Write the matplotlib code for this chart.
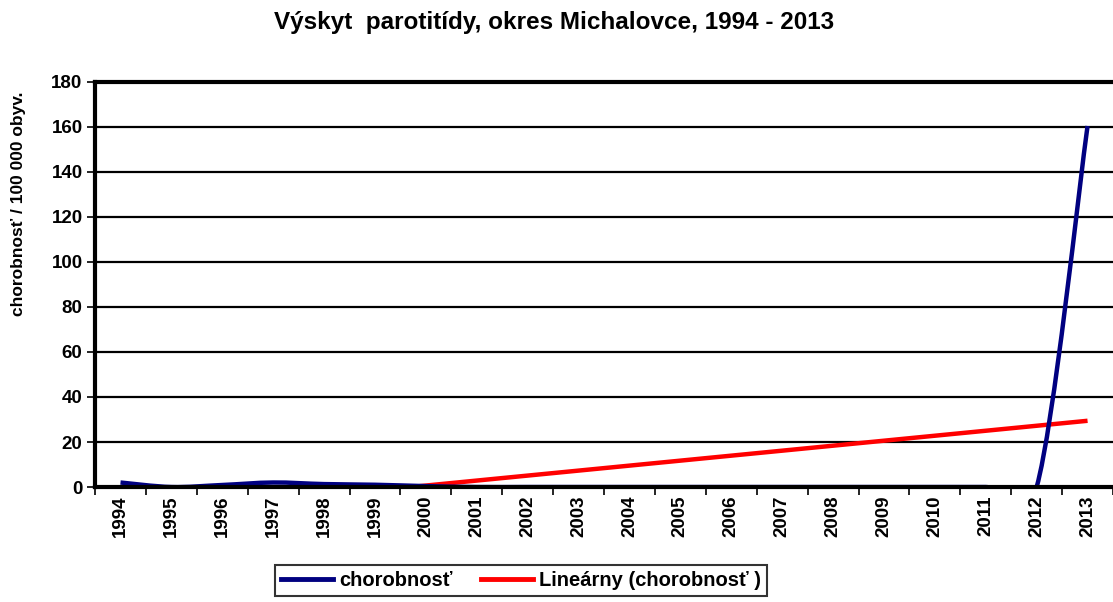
import matplotlib
matplotlib.use('Agg')
import matplotlib.pyplot as plt
from matplotlib.path import Path
from matplotlib.patches import PathPatch
from matplotlib.lines import Line2D
import numpy as np

plt.rcParams['font.family'] = ['Liberation Sans', 'DejaVu Sans']
plt.rcParams['font.weight'] = 'bold'

years = [str(y) for y in range(1994, 2014)]
incidence = [2.0, 0.0, 0.9, 2.0, 1.3, 1.0, 0.4, 0, 0, 0,
             0, 0, 0, 0, 0, 0, 0, 0, 0, 160.4]
y_ticks = [0, 20, 40, 60, 80, 100, 120, 140, 160, 180]

TITLE = 'Výskyt  parotitídy, okres Michalovce, 1994 - 2013'
Y_LABEL = 'chorobnosť / 100 000 obyv.'
SERIES_NAME = 'chorobnosť'
TREND_NAME = 'Lineárny (chorobnosť )'

BLUE = '#000080'
RED = '#FF0000'


def smooth_path(xs, ys):
    # Excel-style smoothed line: cubic bezier with catmull-rom control points
    pts = np.column_stack([xs, ys]).astype(float)
    n = len(pts)
    verts = [pts[0]]
    codes = [Path.MOVETO]
    for i in range(n - 1):
        p0 = pts[i - 1] if i > 0 else pts[i]
        p1 = pts[i]
        p2 = pts[i + 1]
        p3 = pts[i + 2] if i + 2 < n else pts[i + 1]
        c1 = p1 + (p2 - p0) / 6.0
        c2 = p2 - (p3 - p1) / 6.0
        verts += [c1, c2, p2]
        codes += [Path.CURVE4] * 3
    return Path(verts, codes)


x = np.arange(len(years))
vals = np.array(incidence, dtype=float)

fig = plt.figure(figsize=(11.13, 6.02), dpi=100)
ax = fig.add_axes([0.0854, 0.191, 0.9146, 0.673])

# grid lines
for t in y_ticks[1:]:
    lw = 3.0 if t == 180 else 1.6
    ax.axhline(t, color='black', linewidth=lw, zorder=1, clip_on=False)

# linear trend (least squares over the whole series)
k, q = np.polyfit(x, vals, 1)
ax.plot(x, k * x + q, color=RED, linewidth=3.2, zorder=3,
        solid_capstyle='butt')

patch = PathPatch(smooth_path(x, vals), facecolor='none', edgecolor=BLUE,
                  linewidth=3.2, zorder=4, capstyle='butt')
ax.add_patch(patch)

ax.set_xlim(-0.5, len(years) - 0.5)
ax.set_ylim(0, 180)

ax.set_yticks(y_ticks)
ax.set_yticklabels([str(t) for t in y_ticks], fontsize=13.5,
                   fontweight='bold')
ax.tick_params(axis='y', length=6, width=1.2, direction='out', pad=3)

ax.set_xticks(np.arange(-0.5, len(years)), minor=False)
ax.set_xticklabels([''] * (len(years) + 1))
ax.set_xticks(x, minor=True)
ax.set_xticklabels(years, minor=True, rotation=90, fontsize=13.5,
                   fontweight='bold')
ax.tick_params(axis='x', which='major', length=6, width=1.2, direction='out')
ax.tick_params(axis='x', which='minor', length=0, pad=6)

for s in ['right', 'top']:
    ax.spines[s].set_visible(False)
ax.spines['left'].set_linewidth(3)
ax.spines['bottom'].set_linewidth(3)
ax.spines['bottom'].set_zorder(5)

ax.set_ylabel(Y_LABEL, fontsize=12.5, fontweight='bold')
ax.yaxis.set_label_coords(-0.068, 0.70)

fig.text(0.498, 0.963, TITLE, ha='center', va='center', fontsize=17.5,
         fontweight='bold')

handles = [Line2D([], [], color=BLUE, linewidth=3.5),
           Line2D([], [], color=RED, linewidth=3.5)]
leg = fig.legend(handles, [SERIES_NAME, TREND_NAME], ncol=2,
                 loc='upper left', bbox_to_anchor=(0.247, 0.062),
                 frameon=True, fancybox=False,
                 prop={'weight': 'bold', 'size': 14.5},
                 handlelength=2.6, handletextpad=0.3, columnspacing=1.4,
                 borderpad=0.3, borderaxespad=0)
leg.get_frame().set_edgecolor('black')
leg.get_frame().set_linewidth(1.5)

fig.savefig('out.png', dpi=100)
